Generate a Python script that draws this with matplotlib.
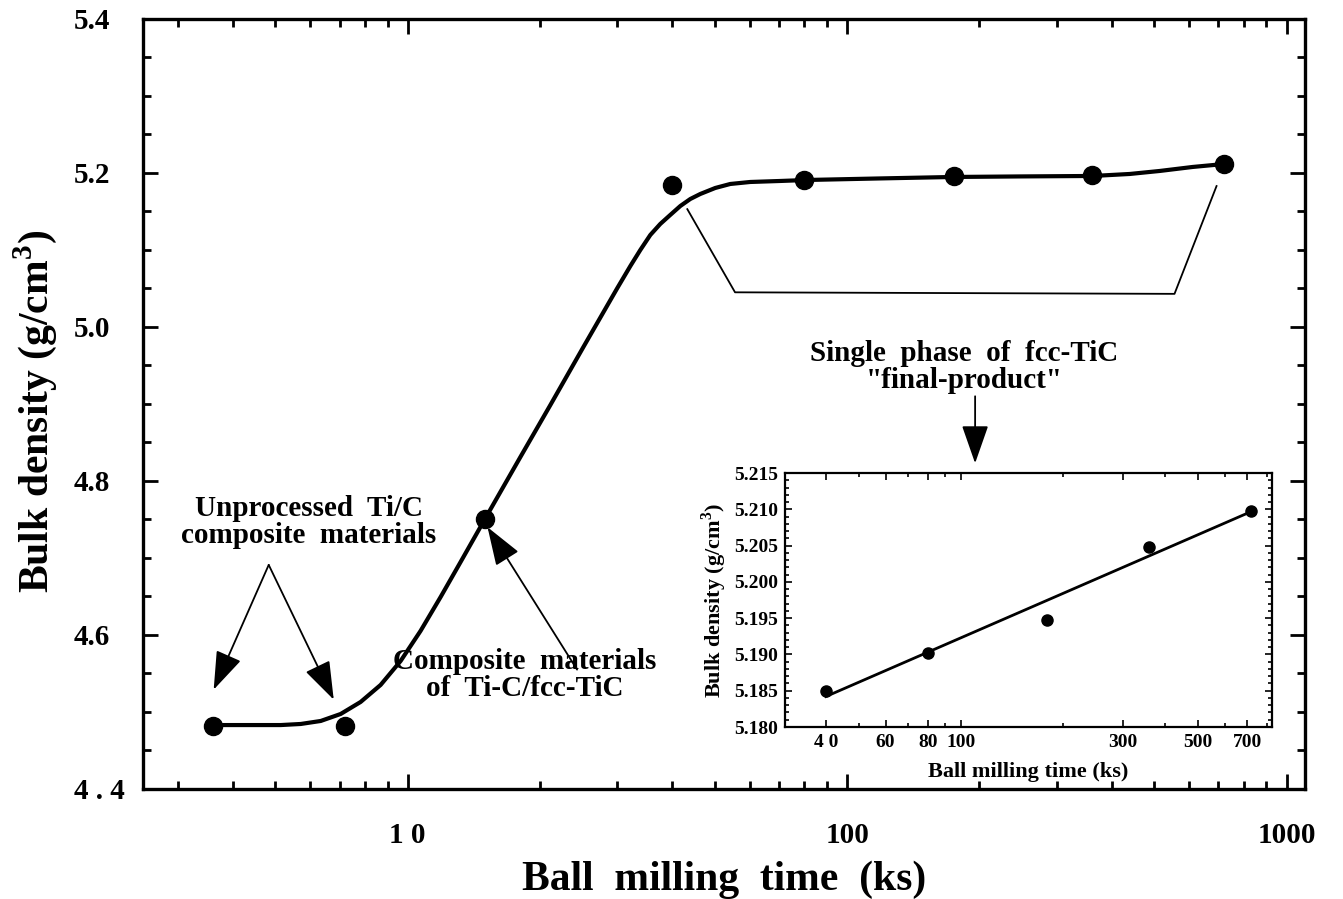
import matplotlib.pyplot as plt
import matplotlib.ticker as mticker

plt.rcParams["font.family"] = ["Liberation Serif", "DejaVu Serif"]
plt.rcParams["font.weight"] = "bold"
plt.rcParams["mathtext.fontset"] = "custom"
plt.rcParams["mathtext.rm"] = "Liberation Serif:bold"
plt.rcParams["mathtext.bf"] = "Liberation Serif:bold"

# measured bulk density vs milling time
time_ks = [3.6, 7.2, 15, 40, 80, 175, 360, 720]
density = [4.482, 4.482, 4.751, 5.184, 5.191, 5.196, 5.197, 5.212]

# hand-drawn guide curve through the measurements
curve_t = [3.605, 4.174, 4.634, 5.145, 5.712, 6.343, 7.042, 7.818, 8.681,
           9.640, 10.70, 11.89, 13.20, 15.04, 18.06, 21.13, 25.12, 30.01,
           32.13, 33.85, 35.67, 37.58, 39.60, 41.74, 43.98, 46.34, 50.12,
           54.22, 60.20, 70.42, 81.15, 118.9, 174.1, 247.3, 362.4, 439.8,
           514.5, 611.5, 723.0]
curve_d = [4.483, 4.483, 4.483, 4.483, 4.4844, 4.4883, 4.4974, 4.5130,
           4.5351, 4.5662, 4.6052, 4.6494, 4.6948, 4.7519, 4.8312, 4.8987,
           4.9740, 5.0506, 5.0792, 5.1000, 5.1195, 5.1338, 5.1455, 5.1571,
           5.1662, 5.1727, 5.1805, 5.1857, 5.1883, 5.1896, 5.1909, 5.1929,
           5.1948, 5.1955, 5.1961, 5.1987, 5.2026, 5.2078, 5.2117]

# inset: final-product stage on an expanded scale
inset_t = [40, 80, 180, 360, 720]
inset_d = [5.185, 5.1902, 5.1947, 5.2048, 5.2098]
fit_t = [40, 720]
fit_d = [5.1842, 5.2097]

main_xticks = [10, 100, 1000]
main_xticklabels = ["1 0", "100", "1000"]
main_yticks = [4.4, 4.6, 4.8, 5.0, 5.2, 5.4]
main_yticklabels = ["4 . 4", "4.6", "4.8", "5.0", "5.2", "5.4"]
inset_xticks = [40, 60, 80, 100, 300, 500, 700]
inset_xticklabels = ["4 0", "60", "80", "100", "300", "500", "700"]
inset_yticks = [5.180, 5.185, 5.190, 5.195, 5.200, 5.205, 5.210, 5.215]

fig = plt.figure(figsize=(13.43, 8.99), dpi=100)
ax = fig.add_axes([0.1065, 0.1224, 0.865, 0.8565])

ax.plot(curve_t, curve_d, color="black", lw=3.0, solid_capstyle="round",
        solid_joinstyle="round")
ax.plot(time_ks, density, "o", color="black", ms=13, ls="none")

ax.set_xscale("log")
ax.set_xlim(2.5, 1100)
ax.set_ylim(4.4, 5.4)
ax.xaxis.set_major_locator(mticker.FixedLocator(main_xticks))
ax.xaxis.set_major_formatter(mticker.FixedFormatter(main_xticklabels))
ax.xaxis.set_minor_locator(mticker.LogLocator(base=10, subs=range(2, 10)))
ax.xaxis.set_minor_formatter(mticker.NullFormatter())
ax.yaxis.set_major_locator(mticker.FixedLocator(main_yticks))
ax.yaxis.set_major_formatter(mticker.FixedFormatter(main_yticklabels))
ax.yaxis.set_minor_locator(mticker.MultipleLocator(0.05))
ax.tick_params(which="both", direction="in", top=True, right=True, width=2)
ax.tick_params(which="major", length=11, labelsize=21)
ax.tick_params(which="minor", length=6)
ax.tick_params(axis="x", which="major", pad=24)
ax.tick_params(axis="y", which="major", pad=50)
for s in ax.spines.values():
    s.set_linewidth(2.4)
for lab in ax.get_xticklabels():
    lab.set_fontweight("bold")
for lab in ax.get_yticklabels():
    lab.set_fontweight("bold")
    lab.set_horizontalalignment("left")

ax.set_xlabel("Ball  milling  time  (ks)", fontsize=30, fontweight="bold", labelpad=8)
ax.set_ylabel("Bulk density (g/cm$^3$)", fontsize=30, fontweight="bold")
ax.yaxis.set_label_coords(-0.072, 0.49)

txt = dict(fontsize=21, fontweight="bold", ha="center", va="center", linespacing=1.0)
head = dict(arrowstyle="-|>,head_length=1.2,head_width=0.42", color="black",
            lw=1.3, mutation_scale=20, shrinkA=0, shrinkB=0)

ax.text(5.96, 4.747, "Unprocessed  Ti/C\ncomposite  materials", **txt)
ax.annotate("", xy=(3.62, 4.529), xytext=(4.83, 4.691), arrowprops=head)
ax.annotate("", xy=(6.79, 4.516), xytext=(4.83, 4.691), arrowprops=head)

ax.text(18.5, 4.548, "Composite  materials\nof  Ti-C/fcc-TiC", **txt)
ax.annotate("", xy=(15.2, 4.740), xytext=(24.3, 4.555), arrowprops=head)

# bracket spanning the plateau
bracket_t = [43.3, 55.6, 556, 693]
bracket_d = [5.153, 5.045, 5.043, 5.183]
ax.plot(bracket_t, bracket_d, color="black", lw=1.3)
ax.text(185, 4.948, "Single  phase  of  fcc-TiC\n\"final-product\"", **txt)
ax.annotate("", xy=(195.6, 4.823), xytext=(195.6, 4.910), arrowprops=head)

# inset
ins = fig.add_axes([785 / 1343, 1 - 727 / 899, 487 / 1343, 254 / 899])
ins.plot(fit_t, fit_d, color="black", lw=2.0)
ins.plot(inset_t, inset_d, "o", color="black", ms=8, ls="none")
ins.set_xscale("log")
ins.set_xlim(30.3, 828)
ins.set_ylim(5.180, 5.215)
ins.xaxis.set_major_locator(mticker.FixedLocator(inset_xticks))
ins.xaxis.set_major_formatter(mticker.FixedFormatter(inset_xticklabels))
ins.xaxis.set_minor_locator(mticker.FixedLocator([50, 70, 90, 200, 400, 600, 800]))
ins.xaxis.set_minor_formatter(mticker.NullFormatter())
ins.yaxis.set_major_locator(mticker.FixedLocator(inset_yticks))
ins.yaxis.set_major_formatter(mticker.FormatStrFormatter("%.3f"))
ins.yaxis.set_minor_locator(mticker.MultipleLocator(0.001))
ins.tick_params(which="both", direction="in", top=True, right=True, width=1.2)
ins.tick_params(which="major", length=5, labelsize=14, pad=5)
ins.tick_params(which="minor", length=3)
for s in ins.spines.values():
    s.set_linewidth(1.6)
for lab in ins.get_xticklabels() + ins.get_yticklabels():
    lab.set_fontweight("bold")
ins.set_xlabel("Ball milling time (ks)", fontsize=16, fontweight="bold", labelpad=8)
ins.set_ylabel("Bulk density (g/cm$^3$)", fontsize=16, fontweight="bold", labelpad=4)

fig.savefig("out.png", dpi=100)
